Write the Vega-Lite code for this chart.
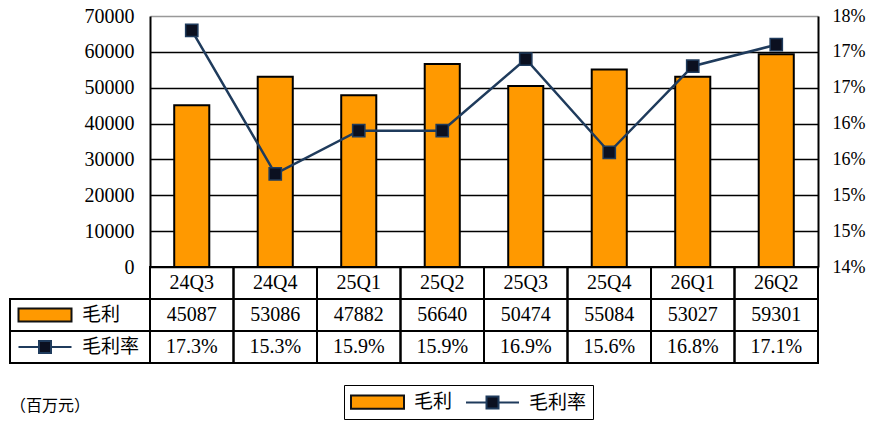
{
  "$schema": "https://vega.github.io/schema/vega-lite/v6.json",
  "width": 668,
  "height": 251,
  "autosize": {"type": "none"},
  "padding": {"left": 150, "top": 16, "right": 62, "bottom": 171},
  "background": "white",
  "config": {"view": {"stroke": null}},
  "data": {
    "values": [
      {"q": "24Q3", "gp": 45087, "rate": 0.173},
      {"q": "24Q4", "gp": 53086, "rate": 0.153},
      {"q": "25Q1", "gp": 47882, "rate": 0.159},
      {"q": "25Q2", "gp": 56640, "rate": 0.159},
      {"q": "25Q3", "gp": 50474, "rate": 0.169},
      {"q": "25Q4", "gp": 55084, "rate": 0.156},
      {"q": "26Q1", "gp": 53027, "rate": 0.168},
      {"q": "26Q2", "gp": 59301, "rate": 0.171}
    ]
  },
  "resolve": {"scale": {"x": "independent", "y": "independent"}},
  "layer": [
    {
      "mark": {"type": "bar", "fill": "#FF9900", "stroke": "black", "strokeWidth": 2, "width": {"band": 0.42}},
      "encoding": {
        "x": {"field": "q", "type": "nominal", "axis": null, "scale": {"paddingInner": 0, "paddingOuter": 0}},
        "y": {
          "field": "gp", "type": "quantitative",
          "scale": {"domain": [0, 70000], "nice": false},
          "axis": {
            "title": null,
            "values": [0, 10000, 20000, 30000, 40000, 50000, 60000, 70000],
            "format": "d",
            "grid": true,
            "gridColor": {"condition": {"test": "datum.value === 70000", "value": "#999999"}, "value": "black"},
            "gridWidth": 1.5,
            "ticks": false,
            "domainColor": "black",
            "domainWidth": 2,
            "labelFont": "Liberation Serif",
            "labelFontSize": 20,
            "labelColor": "black",
            "labelPadding": 16
          }
        }
      }
    },
    {
      "encoding": {
        "x": {"field": "q", "type": "nominal", "axis": null, "scale": {"paddingInner": 0, "paddingOuter": 0}},
        "y": {
          "field": "rate", "type": "quantitative",
          "scale": {"domain": [0.14, 0.175], "nice": false, "zero": false},
          "axis": {
            "orient": "right",
            "title": null,
            "values": [0.14, 0.145, 0.15, 0.155, 0.16, 0.165, 0.17, 0.175],
            "labelExpr": "round(datum.value * 100 + 0.01) + '%'",
            "grid": false,
            "ticks": false,
            "domainColor": "black",
            "domainWidth": 2,
            "labelFont": "Liberation Serif",
            "labelFontSize": 18,
            "labelColor": "black",
            "labelPadding": 14
          }
        }
      },
      "layer": [
        {"mark": {"type": "line", "stroke": "#1F3B5C", "strokeWidth": 2.5}},
        {"mark": {"type": "point", "shape": "square", "size": 150, "filled": true, "fill": "#0B1020", "stroke": "#1F3B5C", "strokeWidth": 1.5, "opacity": 1}}
      ]
    },
    {
      "encoding": {
        "x": {"field": "q", "type": "nominal", "axis": null, "scale": {"paddingInner": 0, "paddingOuter": 0}}
      },
      "layer": [
        {
          "mark": {"type": "rect", "fillOpacity": 0, "stroke": "black", "strokeWidth": 2},
          "encoding": {"y": {"datum": "header", "type": "nominal", "axis": null, "scale": {"domain": ["header", "毛利", "毛利率"], "range": [251, 347], "paddingInner": 0, "paddingOuter": 0}}}
        },
        {
          "mark": {"type": "rect", "fillOpacity": 0, "stroke": "black", "strokeWidth": 2},
          "encoding": {"y": {"datum": "毛利", "type": "nominal", "axis": null}}
        },
        {
          "mark": {"type": "rect", "fillOpacity": 0, "stroke": "black", "strokeWidth": 2},
          "encoding": {"y": {"datum": "毛利率", "type": "nominal", "axis": null}}
        },
        {
          "mark": {"type": "text", "font": "Liberation Serif", "fontSize": 20, "color": "black"},
          "encoding": {"y": {"datum": "header", "type": "nominal", "axis": null}, "text": {"field": "q"}}
        },
        {
          "mark": {"type": "text", "font": "Liberation Serif", "fontSize": 20, "color": "black"},
          "encoding": {"y": {"datum": "毛利", "type": "nominal", "axis": null}, "text": {"field": "gp", "type": "quantitative", "format": "d"}}
        },
        {
          "mark": {"type": "text", "font": "Liberation Serif", "fontSize": 20, "color": "black"},
          "encoding": {"y": {"datum": "毛利率", "type": "nominal", "axis": null}, "text": {"field": "rate", "type": "quantitative", "format": ".1%"}}
        }
      ]
    },
    {
      "data": {"values": [{"s": "毛利"}, {"s": "毛利率"}]},
      "layer": [
        {
          "mark": {"type": "rect", "fillOpacity": 0, "stroke": "black", "strokeWidth": 2},
          "encoding": {
            "x": {"datum": 0, "type": "quantitative", "axis": null, "scale": {"domain": [0, 140], "range": [-140, 0], "nice": false, "zero": false}},
            "x2": {"datum": 140},
            "y": {"field": "s", "type": "nominal", "axis": null, "scale": {"domain": ["header", "毛利", "毛利率", "gap", "unit"], "range": [251, 411], "paddingInner": 0, "paddingOuter": 0}}
          }
        },
        {
          "mark": {"type": "point", "size": 400, "filled": true, "strokeWidth": 2, "opacity": 1},
          "encoding": {
            "x": {"datum": 18.5, "type": "quantitative"},
            "y": {"field": "s", "type": "nominal"},
            "shape": {
              "field": "s", "type": "nominal",
              "scale": {"domain": ["毛利", "毛利率"], "range": ["M-1,-0.66H4.3V0.66H-1Z", "M-1,0H1.05M2.25,0H4.3M1.05,-0.6H2.25V0.6H1.05Z"]},
              "legend": {"title": null, "orient": "none", "legendX": 194, "legendY": 369, "direction": "horizontal", "strokeColor": "black", "padding": 6, "symbolSize": 400, "symbolStrokeWidth": 2, "labelFont": "Noto Sans CJK SC", "labelFontSize": 19, "labelColor": "black", "labelOffset": 42, "columnPadding": 9}
            },
            "fill": {
              "field": "s", "type": "nominal",
              "scale": {"domain": ["毛利", "毛利率"], "range": ["#FF9900", "#0B1020"]},
              "legend": {"title": null, "orient": "none", "legendX": 194, "legendY": 369, "direction": "horizontal", "strokeColor": "black", "padding": 6, "symbolSize": 400, "symbolStrokeWidth": 2, "labelFont": "Noto Sans CJK SC", "labelFontSize": 19, "labelColor": "black", "labelOffset": 42, "columnPadding": 9}
            },
            "stroke": {
              "field": "s", "type": "nominal",
              "scale": {"domain": ["毛利", "毛利率"], "range": ["#111111", "#1F3B5C"]},
              "legend": {"title": null, "orient": "none", "legendX": 194, "legendY": 369, "direction": "horizontal", "strokeColor": "black", "padding": 6, "symbolSize": 400, "symbolStrokeWidth": 2, "labelFont": "Noto Sans CJK SC", "labelFontSize": 19, "labelColor": "black", "labelOffset": 42, "columnPadding": 9}
            }
          }
        },
        {
          "mark": {"type": "text", "align": "left", "font": "Noto Sans CJK SC", "fontSize": 19, "color": "black"},
          "encoding": {
            "x": {"datum": 72, "type": "quantitative"},
            "y": {"field": "s", "type": "nominal"},
            "text": {"field": "s"}
          }
        },
        {
          "data": {"values": [{"t": "（百万元）"}]},
          "mark": {"type": "text", "align": "left", "baseline": "alphabetic", "font": "Noto Sans CJK SC", "fontSize": 16, "color": "black"},
          "encoding": {
            "x": {"datum": 0, "type": "quantitative"},
            "y": {"datum": "unit", "type": "nominal"},
            "text": {"field": "t"}
          }
        }
      ]
    }
  ]
}
